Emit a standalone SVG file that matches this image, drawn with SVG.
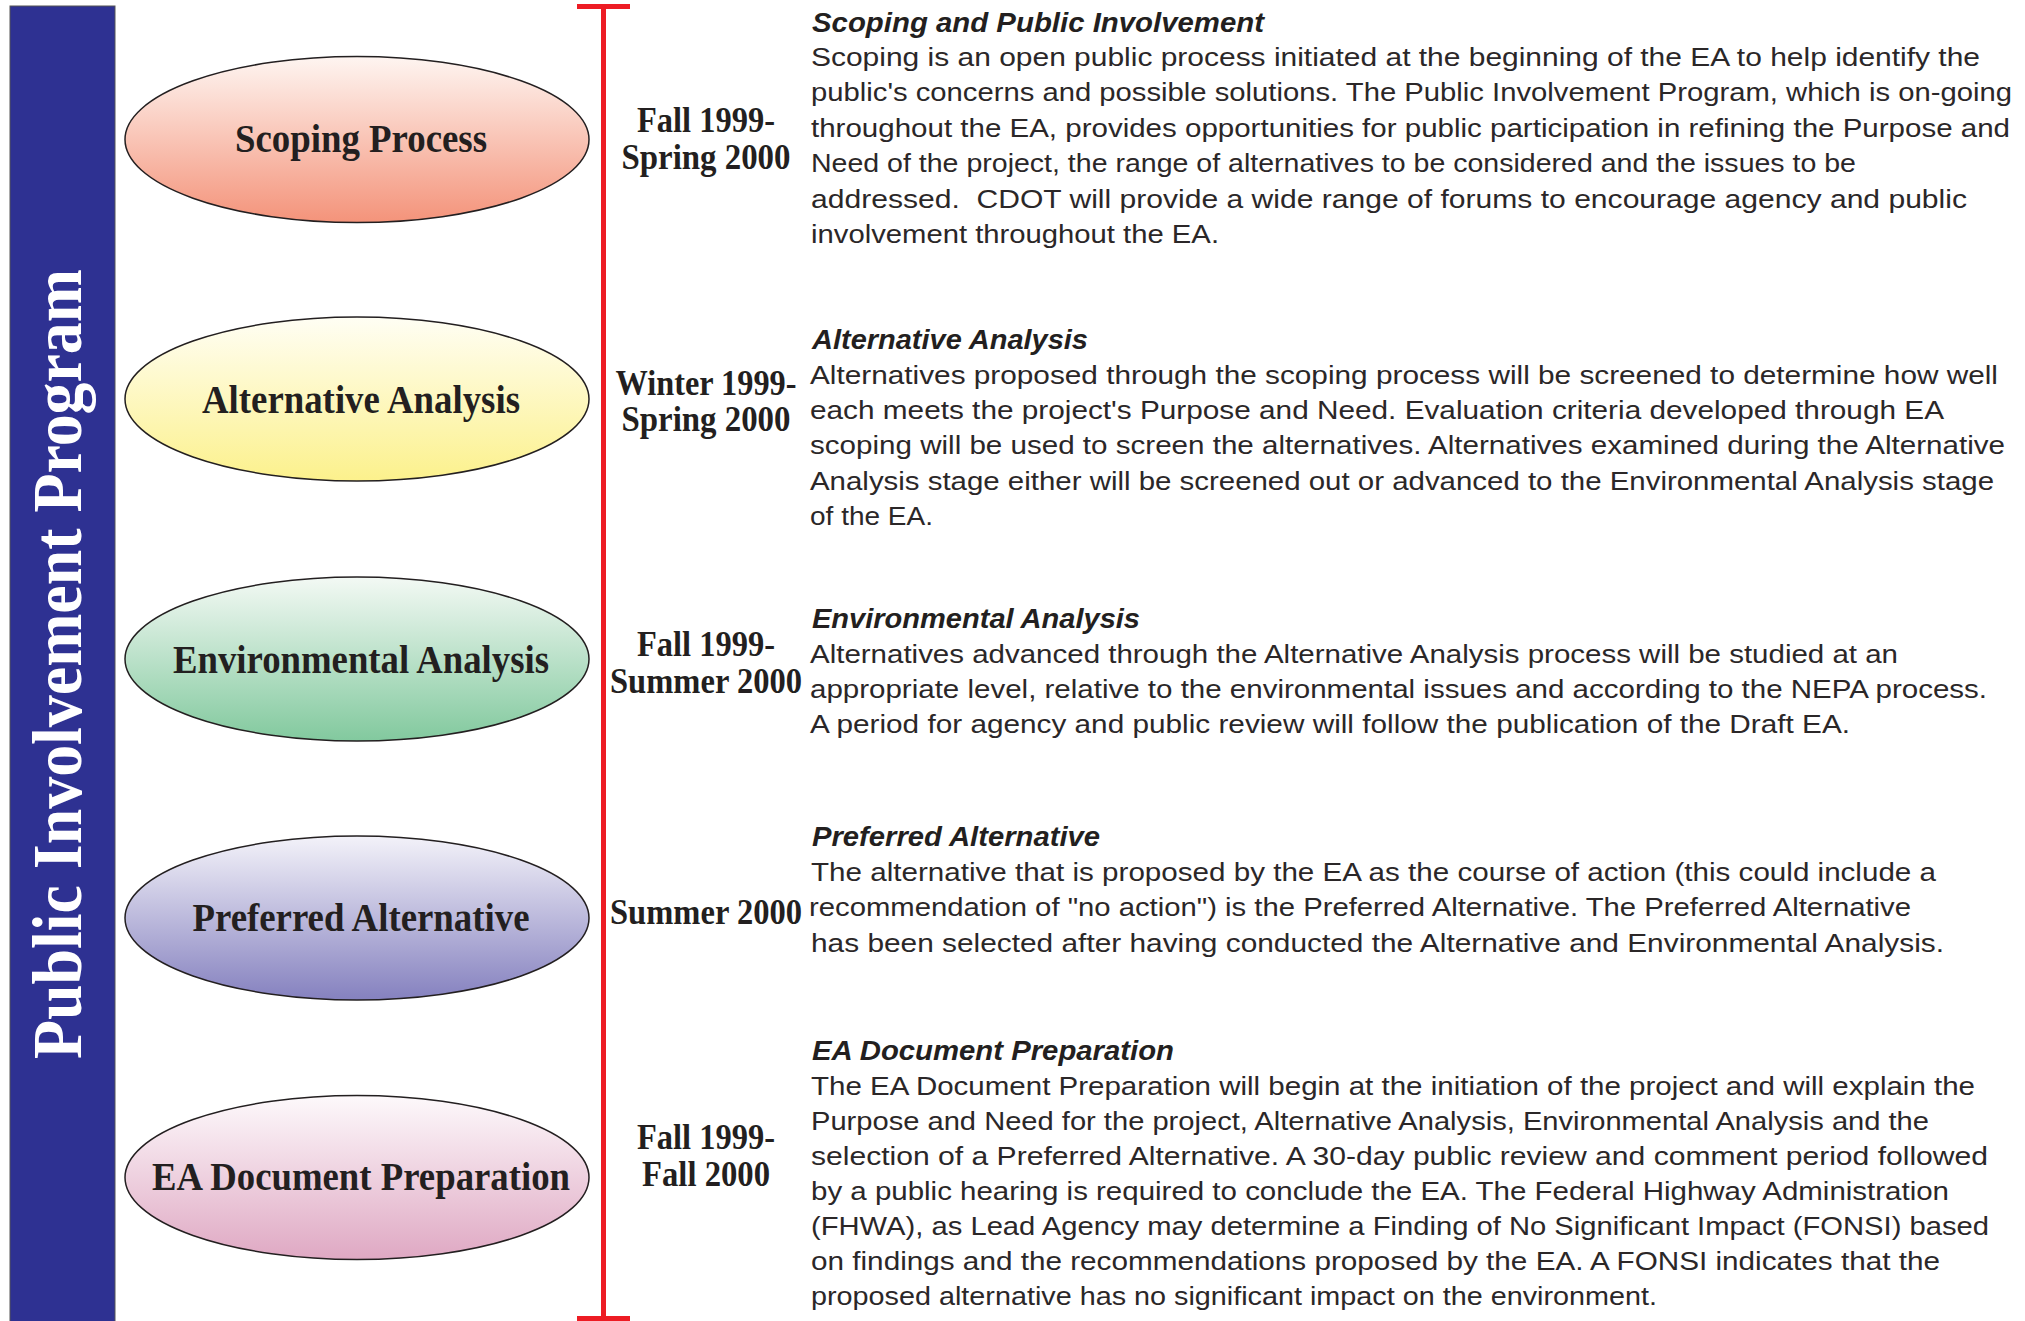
<svg xmlns="http://www.w3.org/2000/svg" width="2025" height="1321" viewBox="0 0 2025 1321">
<style>
.lbl{font-family:"Liberation Serif","Times New Roman",serif;font-weight:bold;font-size:41px;fill:#231f20;text-anchor:middle}
.date{font-family:"Liberation Serif","Times New Roman",serif;font-weight:bold;font-size:35px;fill:#231f20;text-anchor:middle}
.hd{font-family:"Liberation Sans",Arial,sans-serif;font-weight:bold;font-style:italic;font-size:28px;fill:#231f20}
.bd{font-family:"Liberation Sans",Arial,sans-serif;font-size:26px;fill:#2b2728}
.ell{stroke:#231f20;stroke-width:1.5}
</style>
<defs>
<linearGradient id="g1" x1="0" y1="0" x2="0" y2="1"><stop offset="0" stop-color="#fef5f1"/><stop offset="1" stop-color="#f4937a"/></linearGradient>
<linearGradient id="g2" x1="0" y1="0" x2="0" y2="1"><stop offset="0" stop-color="#fffef4"/><stop offset="1" stop-color="#fcf18c"/></linearGradient>
<linearGradient id="g3" x1="0" y1="0" x2="0" y2="1"><stop offset="0" stop-color="#f3f9f4"/><stop offset="1" stop-color="#82c99e"/></linearGradient>
<linearGradient id="g4" x1="0" y1="0" x2="0" y2="1"><stop offset="0" stop-color="#f3f2f9"/><stop offset="1" stop-color="#8581bf"/></linearGradient>
<linearGradient id="g5" x1="0" y1="0" x2="0" y2="1"><stop offset="0" stop-color="#fdf9fb"/><stop offset="1" stop-color="#dfa8c3"/></linearGradient>
</defs>
<rect width="2025" height="1321" fill="#ffffff"/>

<g id="title-bar">
<rect x="10" y="6" width="105" height="1316" fill="#2e3192" stroke="#555" stroke-width="1"/>
<text transform="translate(81,664) rotate(-90)" text-anchor="middle" font-family="'Liberation Serif','Times New Roman',serif" font-weight="bold" font-size="70" fill="#ffffff" textLength="790" lengthAdjust="spacingAndGlyphs">Public Involvement Program</text>
</g>

<g id="connectors">
<line x1="603.5" y1="6" x2="603.5" y2="1319" stroke="#ed1c24" stroke-width="5"/>
<line x1="577" y1="6.5" x2="630" y2="6.5" stroke="#ed1c24" stroke-width="5"/>
<line x1="577" y1="1318.5" x2="630" y2="1318.5" stroke="#ed1c24" stroke-width="5"/>
</g>

<g id="node-scoping">
<ellipse class="ell" cx="357" cy="139.5" rx="232" ry="83" fill="url(#g1)"/>
<text class="lbl" x="361" y="152" textLength="252" lengthAdjust="spacingAndGlyphs">Scoping Process</text>
</g>
<g id="node-alternative">
<ellipse class="ell" cx="357" cy="399" rx="232" ry="82" fill="url(#g2)"/>
<text class="lbl" x="361" y="413" textLength="318" lengthAdjust="spacingAndGlyphs">Alternative Analysis</text>
</g>
<g id="node-environmental">
<ellipse class="ell" cx="357" cy="659" rx="232" ry="82" fill="url(#g3)"/>
<text class="lbl" x="361" y="673" textLength="376" lengthAdjust="spacingAndGlyphs">Environmental Analysis</text>
</g>
<g id="node-preferred">
<ellipse class="ell" cx="357" cy="918" rx="232" ry="82" fill="url(#g4)"/>
<text class="lbl" x="361" y="931" textLength="337" lengthAdjust="spacingAndGlyphs">Preferred Alternative</text>
</g>
<g id="node-ea-document">
<ellipse class="ell" cx="357" cy="1177.5" rx="232" ry="82" fill="url(#g5)"/>
<text class="lbl" x="361" y="1190" textLength="418" lengthAdjust="spacingAndGlyphs">EA Document Preparation</text>
</g>

<g id="dates">
<text class="date" x="706" y="132" textLength="138" lengthAdjust="spacingAndGlyphs">Fall 1999-</text>
<text class="date" x="706" y="169" textLength="169" lengthAdjust="spacingAndGlyphs">Spring 2000</text>
<text class="date" x="706" y="395" textLength="181" lengthAdjust="spacingAndGlyphs">Winter 1999-</text>
<text class="date" x="706" y="431" textLength="169" lengthAdjust="spacingAndGlyphs">Spring 2000</text>
<text class="date" x="706" y="656" textLength="138" lengthAdjust="spacingAndGlyphs">Fall 1999-</text>
<text class="date" x="706" y="693" textLength="192" lengthAdjust="spacingAndGlyphs">Summer 2000</text>
<text class="date" x="706" y="924" textLength="192" lengthAdjust="spacingAndGlyphs">Summer 2000</text>
<text class="date" x="706" y="1149" textLength="138" lengthAdjust="spacingAndGlyphs">Fall 1999-</text>
<text class="date" x="706" y="1186" textLength="128" lengthAdjust="spacingAndGlyphs">Fall 2000</text>
</g>

<g id="desc-scoping">
<text class="hd" x="812" y="32" textLength="452" lengthAdjust="spacingAndGlyphs">Scoping and Public Involvement</text>
<text class="bd" x="811" y="66" textLength="1169" lengthAdjust="spacingAndGlyphs">Scoping is an open public process initiated at the beginning of the EA to help identify the</text>
<text class="bd" x="811" y="101.4" textLength="1201" lengthAdjust="spacingAndGlyphs">public's concerns and possible solutions. The Public Involvement Program, which is on-going</text>
<text class="bd" x="811" y="136.8" textLength="1199" lengthAdjust="spacingAndGlyphs">throughout the EA, provides opportunities for public participation in refining the Purpose and</text>
<text class="bd" x="811" y="172.2" textLength="1045" lengthAdjust="spacingAndGlyphs">Need of the project, the range of alternatives to be considered and the issues to be</text>
<text class="bd" x="811" y="207.6" textLength="1156" lengthAdjust="spacingAndGlyphs" xml:space="preserve">addressed.  CDOT will provide a wide range of forums to encourage agency and public</text>
<text class="bd" x="811" y="243" textLength="408" lengthAdjust="spacingAndGlyphs">involvement throughout the EA.</text>
</g>

<g id="desc-alternative">
<text class="hd" x="812" y="349" textLength="276" lengthAdjust="spacingAndGlyphs">Alternative Analysis</text>
<text class="bd" x="810" y="383.5" textLength="1188" lengthAdjust="spacingAndGlyphs">Alternatives proposed through the scoping process will be screened to determine how well</text>
<text class="bd" x="810" y="419" textLength="1134" lengthAdjust="spacingAndGlyphs">each meets the project's Purpose and Need. Evaluation criteria developed through EA</text>
<text class="bd" x="810" y="454" textLength="1195" lengthAdjust="spacingAndGlyphs">scoping will be used to screen the alternatives. Alternatives examined during the Alternative</text>
<text class="bd" x="810" y="489.5" textLength="1184" lengthAdjust="spacingAndGlyphs">Analysis stage either will be screened out or advanced to the Environmental Analysis stage</text>
<text class="bd" x="810" y="525" textLength="123" lengthAdjust="spacingAndGlyphs">of the EA.</text>
</g>

<g id="desc-environmental">
<text class="hd" x="812" y="628" textLength="328" lengthAdjust="spacingAndGlyphs">Environmental Analysis</text>
<text class="bd" x="810" y="662.5" textLength="1088" lengthAdjust="spacingAndGlyphs">Alternatives advanced through the Alternative Analysis process will be studied at an</text>
<text class="bd" x="810" y="697.5" textLength="1177" lengthAdjust="spacingAndGlyphs">appropriate level, relative to the environmental issues and according to the NEPA process.</text>
<text class="bd" x="810" y="732.5" textLength="1040" lengthAdjust="spacingAndGlyphs">A period for agency and public review will follow the publication of the Draft EA.</text>
</g>

<g id="desc-preferred">
<text class="hd" x="812" y="846" textLength="288" lengthAdjust="spacingAndGlyphs">Preferred Alternative</text>
<text class="bd" x="811" y="881" textLength="1125" lengthAdjust="spacingAndGlyphs">The alternative that is proposed by the EA as the course of action (this could include a</text>
<text class="bd" x="809" y="916" textLength="1102" lengthAdjust="spacingAndGlyphs">recommendation of "no action") is the Preferred Alternative. The Preferred Alternative</text>
<text class="bd" x="811" y="951.5" textLength="1133" lengthAdjust="spacingAndGlyphs">has been selected after having conducted the Alternative and Environmental Analysis.</text>
</g>

<g id="desc-ea-document">
<text class="hd" x="812" y="1060" textLength="362" lengthAdjust="spacingAndGlyphs">EA Document Preparation</text>
<text class="bd" x="811" y="1095" textLength="1164" lengthAdjust="spacingAndGlyphs">The EA Document Preparation will begin at the initiation of the project and will explain the</text>
<text class="bd" x="811" y="1130" textLength="1118" lengthAdjust="spacingAndGlyphs">Purpose and Need for the project, Alternative Analysis, Environmental Analysis and the</text>
<text class="bd" x="811" y="1165" textLength="1177" lengthAdjust="spacingAndGlyphs">selection of a Preferred Alternative. A 30-day public review and comment period followed</text>
<text class="bd" x="811" y="1200" textLength="1138" lengthAdjust="spacingAndGlyphs">by a public hearing is required to conclude the EA. The Federal Highway Administration</text>
<text class="bd" x="811" y="1235" textLength="1178" lengthAdjust="spacingAndGlyphs">(FHWA), as Lead Agency may determine a Finding of No Significant Impact (FONSI) based</text>
<text class="bd" x="811" y="1270" textLength="1129" lengthAdjust="spacingAndGlyphs">on findings and the recommendations proposed by the EA. A FONSI indicates that the</text>
<text class="bd" x="811" y="1305" textLength="846" lengthAdjust="spacingAndGlyphs">proposed alternative has no significant impact on the environment.</text>
</g>
</svg>
